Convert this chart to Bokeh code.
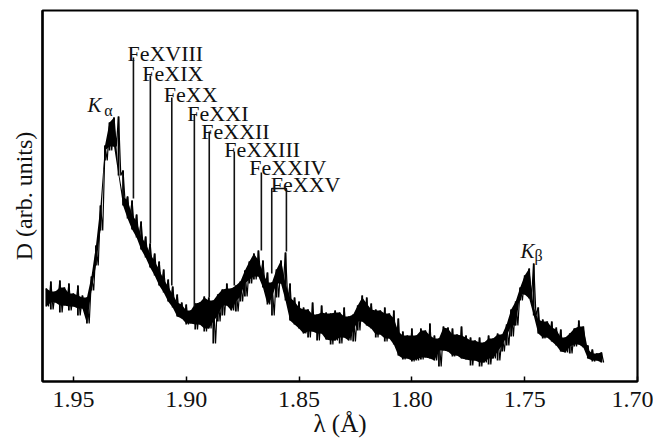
from bokeh.plotting import figure
from bokeh.models import Range1d, FixedTicker, Label, ColumnDataSource
from bokeh.embed import file_html
from bokeh.resources import INLINE
from bokeh.core.properties import value

# ---- spectrum (wavelength in Angstrom, intensity in arb. units) ----
wavelength = [
    1.962, 1.961, 1.960, 1.959, 1.958, 1.957, 1.956, 1.955, 1.954, 1.953,
    1.952, 1.951, 1.950, 1.949, 1.948, 1.947, 1.946, 1.945, 1.944, 1.943,
    1.942, 1.941, 1.940, 1.939, 1.938, 1.937, 1.936, 1.935, 1.934, 1.933,
    1.932, 1.931, 1.930, 1.929, 1.928, 1.927, 1.926, 1.925, 1.924, 1.923,
    1.922, 1.921, 1.920, 1.919, 1.918, 1.917, 1.916, 1.915, 1.914, 1.913,
    1.912, 1.911, 1.910, 1.909, 1.908, 1.907, 1.906, 1.905, 1.904, 1.903,
    1.902, 1.901, 1.900, 1.899, 1.898, 1.897, 1.896, 1.895, 1.894, 1.893,
    1.892, 1.891, 1.890, 1.889, 1.888, 1.887, 1.886, 1.885, 1.884, 1.883,
    1.882, 1.881, 1.880, 1.879, 1.878, 1.877, 1.876, 1.875, 1.874, 1.873,
    1.872, 1.871, 1.870, 1.869, 1.868, 1.867, 1.866, 1.865, 1.864, 1.863,
    1.862, 1.861, 1.860, 1.859, 1.858, 1.857, 1.856, 1.855, 1.854, 1.853,
    1.852, 1.851, 1.850, 1.849, 1.848, 1.847, 1.846, 1.845, 1.844, 1.843,
    1.842, 1.841, 1.840, 1.839, 1.838, 1.837, 1.836, 1.835, 1.834, 1.833,
    1.832, 1.831, 1.830, 1.829, 1.828, 1.827, 1.826, 1.825, 1.824, 1.823,
    1.822, 1.821, 1.820, 1.819, 1.818, 1.817, 1.816, 1.815, 1.814, 1.813,
    1.812, 1.811, 1.810, 1.809, 1.808, 1.807, 1.806, 1.805, 1.804, 1.803,
    1.802, 1.801, 1.800, 1.799, 1.798, 1.797, 1.796, 1.795, 1.794, 1.793,
    1.792, 1.791, 1.790, 1.789, 1.788, 1.787, 1.786, 1.785, 1.784, 1.783,
    1.782, 1.781, 1.780, 1.779, 1.778, 1.777, 1.776, 1.775, 1.774, 1.773,
    1.772, 1.771, 1.770, 1.769, 1.768, 1.767, 1.766, 1.765, 1.764, 1.763,
    1.762, 1.761, 1.760, 1.759, 1.758, 1.757, 1.756, 1.755, 1.754, 1.753,
    1.752, 1.751, 1.750, 1.749, 1.748, 1.747, 1.746, 1.745, 1.744, 1.743,
    1.742, 1.741, 1.740, 1.739, 1.738, 1.737, 1.736, 1.735, 1.734, 1.733,
    1.732, 1.731, 1.730, 1.729, 1.728, 1.727, 1.726, 1.725, 1.724, 1.723,
    1.722, 1.721, 1.720, 1.719, 1.718, 1.717, 1.716, 1.715,
]
intensity = [
    93, 75, 100, 72, 90, 79, 101, 69, 94, 76, 98, 71, 88, 75, 96, 66, 86, 73, 84, 58,
    105, 91, 136, 116, 176, 151, 236, 221, 259, 231, 264, 235, 265, 206, 211, 176,
    185, 163, 181, 152, 167, 144, 160, 132, 145, 124, 138, 114, 128, 106, 120, 96,
    112, 89, 102, 80, 95, 74, 87, 65, 79, 63, 77, 57, 71, 58, 78, 52, 79, 57,
    85, 50, 84, 53, 81, 38, 87, 60, 92, 66, 98, 76, 93, 71, 96, 70, 100, 80,
    111, 85, 120, 98, 128, 102, 131, 105, 121, 94, 109, 77, 99, 66, 112, 84,
    121, 98, 129, 81, 98, 61, 84, 57, 80, 53, 74, 48, 72, 44, 79, 50, 67, 41,
    76, 48, 69, 42, 68, 37, 71, 41, 69, 38, 74, 44, 65, 41, 67, 40, 76, 51,
    86, 60, 84, 56, 78, 53, 72, 44, 71, 47, 74, 40, 68, 43, 71, 37, 63, 26,
    50, 22, 46, 23, 53, 20, 46, 21, 53, 22, 51, 24, 58, 23, 46, 21, 43, 15,
    55, 31, 54, 30, 53, 25, 47, 26, 55, 23, 46, 22, 44, 16, 41, 21, 44, 15,
    39, 19, 46, 17, 43, 23, 48, 21, 47, 30, 57, 36, 72, 45, 80, 56, 94, 81,
    106, 87, 113, 83, 118, 66, 74, 48, 62, 43, 60, 44, 60, 40, 54, 36, 52, 30,
    44, 29, 48, 28, 53, 35, 61, 37, 55, 34, 36, 23, 32, 20, 28, 21, 29, 19,
]

# ---- axis ticks ----
tick_values = [1.95, 1.90, 1.85, 1.80, 1.75, 1.70]
tick_labels = ["1.95", "1.90", "1.85", "1.80", "1.75", "1.70"]

# ---- ion line markers ----
ion_names = ["FeXVIII", "FeXIX", "FeXX", "FeXXI", "FeXXII", "FeXXIII", "FeXXIV"]
ion_lam = [1.9234, 1.9159, 1.9064, 1.8964, 1.8898, 1.8787, 1.8667]
ion_top = [324, 306, 284, 267, 250, 230, 209]
ion_bottom = [183, 138, 96, 75, 84, 96, 131]

fexxv_name = "FeXXV"
fexxv_lam = [1.8621, 1.8556]
fexxv_top = 193
fexxv_bottom = [108, 130]

SERIF = "Liberation Serif"
INK = "#111111"

p = figure(width=653, height=445, output_backend="svg", toolbar_location=None,
           x_range=Range1d(1.9637, 1.70), y_range=Range1d(0, 371),
           min_border_left=42, min_border_right=16, min_border_top=10,
           min_border_bottom=64)
p.xgrid.visible = False
p.ygrid.visible = False
p.outline_line_color = "black"
p.outline_line_width = 2.2
p.background_fill_color = "white"
p.border_fill_color = "white"

ax = p.xaxis[0]
ax.ticker = FixedTicker(ticks=tick_values)
ax.major_label_overrides = dict(zip(tick_values, tick_labels))
ax.major_label_text_font = SERIF
ax.major_label_text_font_size = "24px"
ax.major_label_text_color = INK
ax.major_label_standoff = 10
ax.major_tick_in = 5
ax.major_tick_out = 0
ax.major_tick_line_width = 1.5
ax.minor_tick_line_color = None
ax.axis_line_width = 2.2
ax.axis_label = "λ (Å)"
ax.axis_label_text_font = SERIF
ax.axis_label_text_font_size = "25px"
ax.axis_label_text_font_style = "normal"
ax.axis_label_text_color = INK
ax.axis_label_standoff = 0

ay = p.yaxis[0]
ay.ticker = FixedTicker(ticks=[])
ay.major_tick_line_color = None
ay.minor_tick_line_color = None
ay.major_label_text_font_size = "0px"
ay.axis_line_width = 2.2
ay.axis_label = "D (arb. units)"
ay.axis_label_text_font = SERIF
ay.axis_label_text_font_size = "24px"
ay.axis_label_text_font_style = "normal"
ay.axis_label_text_color = INK
ay.axis_label_standoff = 6

# spectrum: solid core between neighbouring sample pairs, vertical strokes for
# each high/low pair and the raw trace on top (spiky noise look)
hi = intensity[0::2]
lo = intensity[1::2]
core_hi, core_lo = [], []
for i in range(len(hi)):
    j = min(i + 1, len(hi) - 1)
    a, b = min(hi[i], hi[j]), max(lo[i], lo[j])
    if b >= a - 4:
        a, b = hi[i], lo[i]
    core_hi.append(a)
    core_lo.append(b)
p.varea(x=wavelength[0::2], y1=core_lo, y2=core_hi, fill_color="black")
p.segment(x0=wavelength[0::2], y0=lo, x1=wavelength[0::2], y1=hi,
          line_color="black", line_width=1.8)
p.line(wavelength, intensity, line_color="black", line_width=1.2)

# ion marker lines
p.segment(x0=ion_lam, y0=ion_bottom, x1=ion_lam, y1=ion_top,
          line_color=INK, line_width=1.6)
p.line([fexxv_lam[0], fexxv_lam[0], fexxv_lam[1], fexxv_lam[1]],
       [fexxv_bottom[0], fexxv_top, fexxv_top, fexxv_bottom[1]],
       line_color=INK, line_width=1.6)

label_src = ColumnDataSource(dict(
    x=ion_lam + [fexxv_lam[0]],
    y=ion_top + [fexxv_top],
    text=ion_names + [fexxv_name],
    xo=[-6, -8, -8, -7, -8, -10, -12, -1],
    yo=[-4, -2, -3, -1, 0, -2, -5, -4],
))
p.text(x="x", y="y", text="text", x_offset="xo", y_offset="yo", source=label_src,
       text_font=value(SERIF), text_font_size="22px", text_color=INK,
       text_align="left", text_baseline="alphabetic")

# K-alpha / K-beta labels
def add(x, y, t, size, style="normal"):
    p.add_layout(Label(x=x, y=y, text=t, text_font=SERIF, text_font_size=size,
                       text_font_style=style, text_color=INK,
                       text_baseline="alphabetic", text_align="left"))

add(1.9438, 277, "K", "21px", "italic")
add(1.9363, 271, "α", "16px")
add(1.7518, 131, "K", "21px", "italic")
add(1.7456, 126, "β", "16px")

open("out.html", "w").write(file_html(p, INLINE))
